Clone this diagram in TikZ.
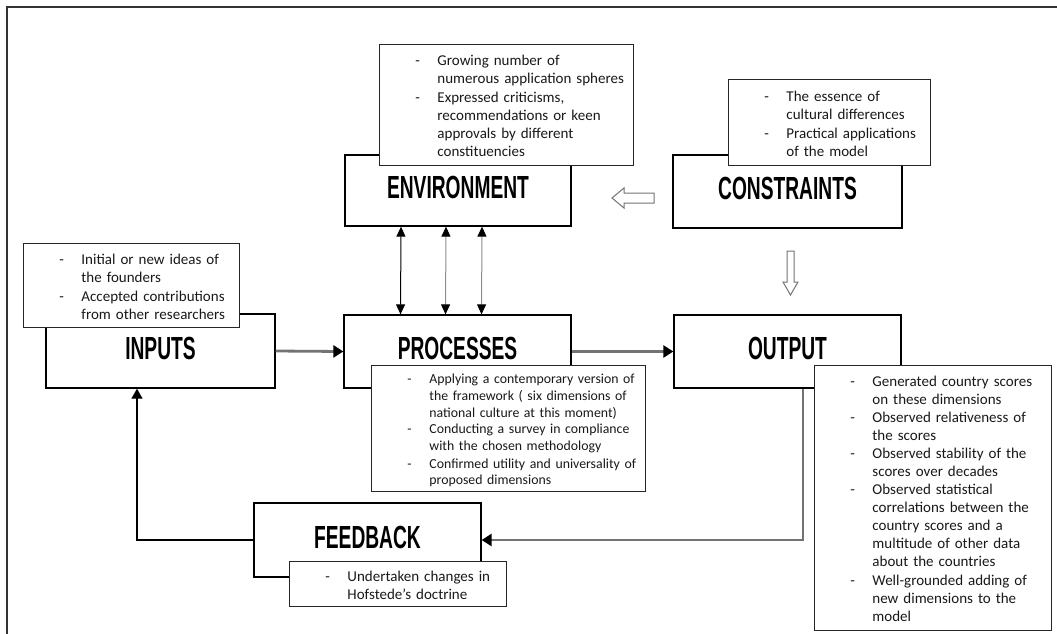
\documentclass[tikz,border=0pt]{standalone}
\usepackage{fontspec}
\usetikzlibrary{arrows.meta}
\newfontfamily\notefont{Carlito}
\newfontfamily\stagefont[FakeStretch=0.6]{Liberation Sans}
\newcommand\dashitem[1]{\par\lineskip=0pt\relax\noindent\hspace*{32pt}\makebox[22pt][l]{-}%
  \begin{tabular}[t]{@{}l@{}}#1\end{tabular}}
\tikzset{
  stage/.style={draw, line width=1.3pt, inner sep=0pt, text depth=6pt,
    font=\stagefont\bfseries\fontsize{32}{32}\selectfont},
  note/.style={draw=black!85, line width=0.9pt, fill=white, anchor=north west,
    inner xsep=4pt, inner ysep=0pt, text=black!90,
    font=\notefont\fontsize{15}{18}\selectfont},
  small note/.style={note, font=\notefont\fontsize{13.8}{16.7}\selectfont},
  link/.style={line width=2.8pt, draw=black!55, -{Triangle[length=10pt,width=12pt,black]}},
  back/.style={line width=1.3pt, draw=black, -{Triangle[length=10pt,width=11pt,black]}},
  both/.style={line width=1pt, {Triangle[length=10pt,width=9pt,black]}-{Triangle[length=10pt,width=9pt,black]}},
  hollow/.style={draw=black!55, line width=1pt, fill=white}
}
\begin{document}
\begin{tikzpicture}[x=1pt, y=-1pt]
    \useasboundingbox (0,0) rectangle (1057,633);
    \draw[line width=2pt, black!80] (7,640) -- (7,7) -- (1060,7);
    % STAGES
    \node[stage, minimum width=226pt, minimum height=71pt] (env) at (458,190.5) {ENVIRONMENT};
    \node[stage, minimum width=229pt, minimum height=73pt] (con) at (787.5,191.5) {CONSTRAINTS};
    \node[stage, minimum width=229pt, minimum height=74pt] (in) at (160.5,351) {INPUTS};
    \node[stage, minimum width=227pt, minimum height=73pt] (pr) at (457.5,351.5) {PROCESSES};
    \node[stage, minimum width=227pt, minimum height=73pt] (out) at (787.5,351.5) {OUTPUT};
    \node[stage, minimum width=227pt, minimum height=74pt] (fb) at (367.5,540) {FEEDBACK};
    % CONNECTORS
    \draw[link] (in.east) -- (pr.west);
    \draw[link] (pr.east) -- (out.west);
    \draw[both] ([xshift=-57pt]env.south) -- ([xshift=-57pt]pr.north);
    \draw[both, draw=black!45] ([xshift=-12pt]env.south) -- ([xshift=-12pt]pr.north);
    \draw[both, draw=black!45] ([xshift=24pt]env.south) -- ([xshift=24pt]pr.north);
    \coordinate (outturn) at (803,540);
    \coordinate (fbturn) at (137,540);
    \draw[link] (outturn |- out.south) -- (outturn) -- (fb.east);
    \draw[back] (fb.west) -- (fbturn) -- (fbturn |- in.south);
    % HOLLOW ARROWS
    \draw[hollow] (654,193) -- (624,193) -- (624,188) -- (612,198) -- (624,208) -- (624,203) -- (654,203) -- cycle;
    \draw[hollow] (787,251) -- (794,251) -- (794,282) -- (798,282) -- (790.5,295) -- (783,282) -- (787,282) -- cycle;
    % NOTES
    \node[note, text width=246pt, minimum height=121pt] (envnote) at (379,44) {%
      \dashitem{Growing number of\\numerous application spheres}%
      \dashitem{Expressed criticisms,\\recommendations or keen\\approvals by different\\constituencies}};
    \node[note, text width=194pt, minimum height=86pt] (connote) at (728,79) {%
      \dashitem{The essence of\\cultural differences}%
      \dashitem{Practical applications\\of the model}};
    \node[note, text width=208pt, minimum height=84pt] (innote) at (23,243) {%
      \dashitem{Initial or new ideas of\\the founders}%
      \dashitem{Accepted contributions\\from other researchers}};
    \node[small note, text width=266pt, minimum height=126pt] (prnote) at (371,365) {%
      \dashitem{Applying a contemporary version of\\the framework ( six dimensions of\\national culture at this moment)}%
      \dashitem{Conducting a survey in compliance\\with the chosen methodology}%
      \dashitem{Confirmed utility and universality of\\proposed dimensions}};
    \node[note, text width=229pt, minimum height=265pt] (outnote) at (814,365) {%
      \dashitem{Generated country scores\\on these dimensions}%
      \dashitem{Observed relativeness of\\the scores}%
      \dashitem{Observed stability of the\\scores over decades}%
      \dashitem{Observed statistical\\correlations between the\\country scores and a\\multitude of other data\\about the countries}%
      \dashitem{Well-grounded adding of\\new dimensions to the\\model}};
    \node[note, text width=209pt, minimum height=45pt] (fbnote) at (289,561) {%
      \dashitem{Undertaken changes in\\Hofstede’s doctrine}};
\end{tikzpicture}
\end{document}
